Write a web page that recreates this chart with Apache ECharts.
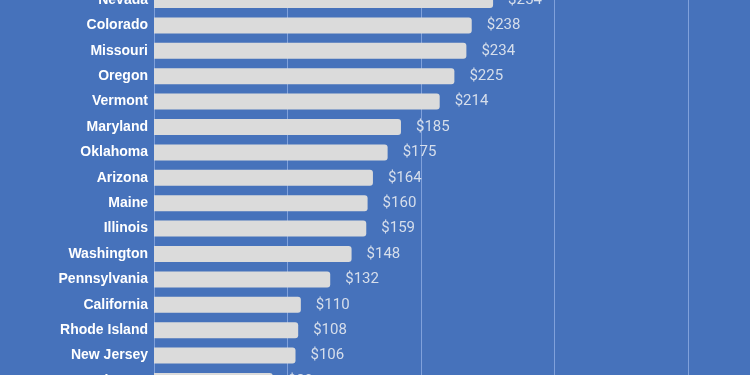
<!DOCTYPE html>
<html style="height: 100%">
<head>
	<meta charset="UTF-8">
	<title>State bar chart</title>
	<script src="https://cdn.jsdelivr.net/npm/echarts@6/dist/echarts.min.js"></script>
</head>
<body style="height:100%; margin:0; background-color:#4672bb">
<div id="one" style="width:750px; height:375px;"></div>
<script type="text/javascript">
	// data, top to bottom
	var states = ['Nevada', 'Colorado', 'Missouri', 'Oregon', 'Vermont', 'Maryland', 'Oklahoma', 'Arizona',
		'Maine', 'Illinois', 'Washington', 'Pennsylvania', 'California', 'Rhode Island', 'New Jersey', 'Delaware'];
	var values = [254, 238, 234, 225, 214, 185, 175, 164, 160, 159, 148, 132, 110, 108, 106, 89];
	var xTicks = [0, 100, 200, 300, 400, 500];

	var myChart = echarts.init(document.getElementById('one'));
	var option = {
		backgroundColor: '#4672bb',
		animation: false,
		// chart is cropped: grid runs past the top, bottom and right edges
		grid: {
			left: 154,
			top: -12.7,
			width: 667.5,
			height: 406.4,
			containLabel: false,
			outerBoundsMode: 'none'
		},
		xAxis: {
			type: 'value',
			min: xTicks[0],
			max: xTicks[xTicks.length - 1],
			interval: 100,
			axisLabel: { show: false },
			axisLine: { show: false },
			axisTick: { show: false },
			splitLine: {
				lineStyle: { color: '#80a1db', width: 1 }
			}
		},
		yAxis: {
			type: 'category',
			inverse: true,
			data: states,
			axisLine: { show: false },
			axisTick: { show: false },
			axisLabel: {
				color: '#ffffff',
				fontFamily: 'Liberation Sans, Arial',
				fontWeight: 'bold',
				fontSize: 14,
				margin: 6
			}
		},
		series: [{
			type: 'bar',
			data: values,
			barWidth: 16,
			itemStyle: {
				color: '#dbdbdb',
				borderRadius: [0, 3, 3, 0]
			},
			label: {
				show: true,
				position: 'right',
				distance: 15,
				color: '#d6deeb',
				fontFamily: 'Roboto',
				fontSize: 15,
				formatter: function (p) { return '$' + p.value; }
			}
		}]
	};
	myChart.setOption(option);
</script>
</body>
</html>
